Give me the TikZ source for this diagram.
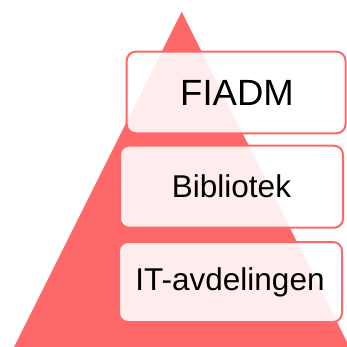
\documentclass[tikz,border=0pt]{standalone}
\usepackage{fontspec}
\setmainfont{Liberation Sans}
\definecolor{pyr}{RGB}{255,104,104}
\tikzset{
  lvl/.style={draw=pyr, line width=2pt, rounded corners=9pt, fill=white, fill opacity=0.88, draw opacity=1, text opacity=1, text=black},
}
\begin{document}
\begin{tikzpicture}[x=1pt,y=-1pt]
\useasboundingbox (0,0) rectangle (347,347);
\clip (0,0) rectangle (347,347);
\fill[pyr] (181.7,11.7) -- (14,347) -- (349.4,347) -- cycle;
\draw[lvl] (126.7,51.7) rectangle (345.5,133.3);
\node (fiadm) at (237,92.5) {\fontsize{36.5}{40}\selectfont FIADM};
\draw[lvl] (120,145.7) rectangle (343,227.7);
\node (bib) at (231.5,186.7) {\fontsize{31.5}{36}\selectfont Bibliotek};
\draw[lvl] (119,242) rectangle (342,322);
\node (it) at (230,282) {\fontsize{31.5}{36}\selectfont IT-avdelingen};
\end{tikzpicture}
\end{document}
